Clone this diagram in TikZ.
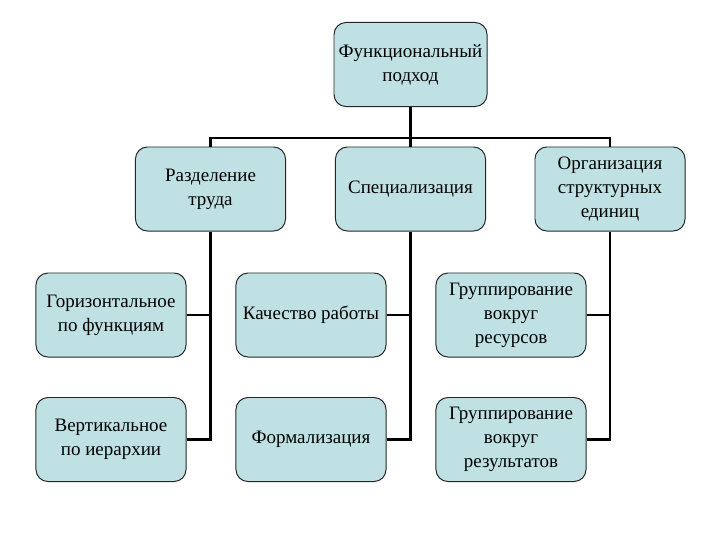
\documentclass[tikz,border=0pt]{standalone}
\usepackage{fontspec}
\setmainfont{Liberation Serif}
\usepackage{tikz}
\usetikzlibrary{arrows.meta}
\definecolor{boxfill}{RGB}{192,225,227}

\begin{document}
\begin{tikzpicture}[
    x=0.025cm, y=-0.025cm,
    box/.style={
        draw=black!85,
        line width=0.7pt,
        fill=boxfill,
        rounded corners=0.3cm,
        minimum width=3.75cm,
        minimum height=2.1cm,
        align=center,
        font=\fontsize{13.5}{17}\selectfont
    },
    conn/.style={
        line width=2pt,
        black
    }
]

\useasboundingbox (0,0) rectangle (720,540);

% Verkhnij uroven
\node[box] (top) at (410.5,64.5) {Функциональный\\подход};

% Vtoroj uroven
\node[box] (div)  at (210.5,189) {Разделение\\труда};
\node[box] (spec) at (410.5,189) {Специализация};
\node[box] (org)  at (610,189)   {Организация\\структурных\\единиц};

% Tretij uroven
\node[box] (horiz) at (111,315)   {Горизонтальное\\по функциям};
\node[box] (vert)  at (111,439.5) {Вертикальное\\по иерархии};
\node[box] (qual)  at (311,315)   {Качество работы};
\node[box] (form)  at (311,439.5) {Формализация};
\node[box] (res)   at (511,315)   {Группирование\\вокруг\\ресурсов};
\node[box] (rez)   at (511,439.5) {Группирование\\вокруг\\результатов};

% Shina
\coordinate (bus) at (410.5,138);

\draw[conn] (top.south) -- (bus);
\draw[conn] (div.north) -- (div.north |- bus) -- (org.north |- bus) -- (org.north);
\draw[conn] (spec.north) -- (spec.north |- bus);

% Vetki vniz
\draw[conn] (div.south) -- (div.south |- vert.east) -- (vert.east);
\draw[conn] (horiz.east) -- (horiz.east -| div.south);

\draw[conn] (spec.south) -- (spec.south |- form.east) -- (form.east);
\draw[conn] (qual.east) -- (qual.east -| spec.south);

\draw[conn] (org.south) -- (org.south |- rez.east) -- (rez.east);
\draw[conn] (res.east) -- (res.east -| org.south);

\end{tikzpicture}
\end{document}
